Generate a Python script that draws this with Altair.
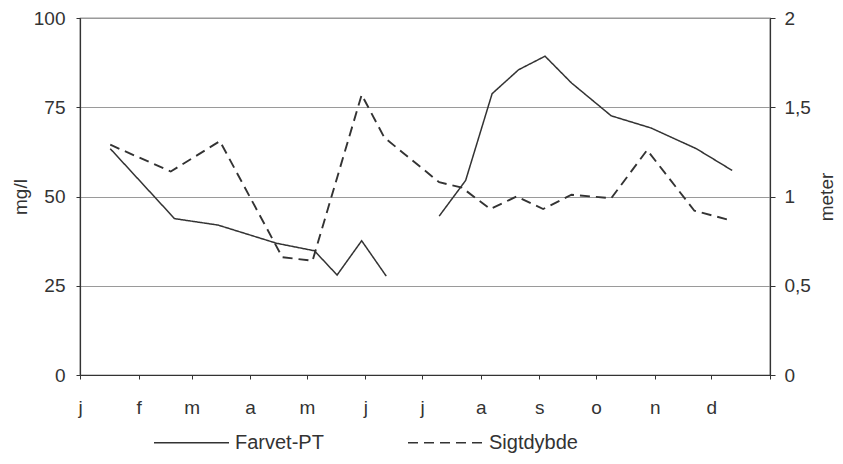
import altair as alt
import pandas as pd

# ---- data ----
month_letters = ['j', 'f', 'm', 'a', 'm', 'j', 'j', 'a', 's', 'o', 'n', 'd', '']
month_start_doy = [0, 31, 59, 90, 120, 151, 181, 212, 243, 273, 304, 334, 365]

farvet_dates = ["2001-01-17", "2001-02-20", "2001-03-15", "2001-04-15", "2001-05-05",
                "2001-05-17", "2001-05-30", "2001-06-12",
                "2001-07-10", "2001-07-24", "2001-08-07", "2001-08-21", "2001-09-04",
                "2001-09-18", "2001-10-09", "2001-10-30", "2001-11-23", "2001-12-12"]
farvet_values = [63.4, 43.8, 42.0, 36.9, 34.8, 28.0, 37.6, 27.7,
                 44.5, 54.5, 78.8, 85.5, 89.3, 81.8, 72.6, 69.2, 63.4, 57.3]
farvet_segment = [1, 1, 1, 1, 1, 1, 1, 1, 2, 2, 2, 2, 2, 2, 2, 2, 2, 2]

sigt_dates = ["2001-01-17", "2001-02-18", "2001-03-16", "2001-04-18", "2001-05-04",
              "2001-05-30", "2001-06-11", "2001-07-10", "2001-07-22", "2001-08-06",
              "2001-08-20", "2001-09-03", "2001-09-18", "2001-10-09", "2001-10-28",
              "2001-11-22", "2001-12-10"]
sigt_values = [1.29, 1.14, 1.31, 0.66, 0.64, 1.57, 1.33, 1.08, 1.05, 0.93,
               1.00, 0.93, 1.01, 0.99, 1.26, 0.92, 0.87]

series_names = ["Farvet-PT", "Sigtdybde"]

df_f = pd.DataFrame({
    "doy": pd.to_datetime(farvet_dates).dayofyear - 1,
    "value": farvet_values,
    "series": series_names[0],
    "seg": farvet_segment,
})
df_s = pd.DataFrame({
    "doy": pd.to_datetime(sigt_dates).dayofyear - 1,
    "value": sigt_values,
    "series": series_names[1],
    "seg": 1,
})

FONT = "Liberation Sans"
INK = "#333333"

label_expr = ("[" + ",".join("'%s'" % m for m in month_letters) + "][indexof(["
              + ",".join(str(d) for d in month_start_doy) + "], datum.value)]")

x_enc = alt.X(
    "doy:Q",
    scale=alt.Scale(domain=[0, 365], nice=False, zero=False),
    axis=alt.Axis(values=month_start_doy, labelExpr=label_expr, title=None, grid=False,
                  tickSize=4, labelFlush=False, labelAlign="center",
                  labelBaseline="alphabetic", labelPadding=34),
)

legend = alt.Legend(orient="none", legendX=73, legendY=386, direction="horizontal",
                    title=None, symbolType="stroke", symbolSize=5625,
                    symbolStrokeWidth=1.5, symbolStrokeColor=INK,
                    labelFontSize=20, labelFont=FONT, labelColor=INK,
                    labelOffset=5, columnPadding=81, padding=0)

dash_enc = alt.StrokeDash("series:N",
                          scale=alt.Scale(domain=series_names, range=[[1, 0], [10, 6]]),
                          legend=legend)

left = alt.Chart(df_f).mark_line(color=INK, strokeWidth=1.5).encode(
    x=x_enc,
    y=alt.Y("value:Q", scale=alt.Scale(domain=[0, 100], nice=False),
            axis=alt.Axis(values=[0, 25, 50, 75, 100], title="mg/l", grid=True,
                          gridColor="#9a9a9a", gridWidth=1, tickSize=4, labelPadding=11,
                          titleAngle=270, titleX=-60, titleY=178.5,
                          titleAlign="center", titleBaseline="middle")),
    strokeDash=dash_enc,
    detail="seg:N",
)

right = alt.Chart(df_s).mark_line(color=INK, strokeWidth=1.9).encode(
    x=x_enc,
    y=alt.Y("value:Q", scale=alt.Scale(domain=[0, 2], nice=False),
            axis=alt.Axis(orient="right", values=[0, 0.5, 1, 1.5, 2], title="meter",
                          grid=False, tickSize=5, labelPadding=9,
                          labelExpr="replace(toString(datum.value), '.', ',')",
                          titleAngle=270, titleX=56, titleY=178.5,
                          titleAlign="center", titleBaseline="middle")),
    strokeDash=dash_enc,
    detail="seg:N",
)

chart = alt.layer(left, right).resolve_scale(y="independent").properties(
    width=690, height=357,
    autosize=alt.AutoSizeParams(type="none"),
    padding={"left": 72, "top": 10, "right": 65, "bottom": 85},
).configure_view(stroke=INK, strokeWidth=1.2).configure_axis(
    labelFont=FONT, labelFontSize=19, labelColor=INK,
    titleFont=FONT, titleFontSize=19, titleColor=INK, titleFontWeight="normal",
    domainColor=INK, domainWidth=1.2, tickColor=INK,
)

chart.save("out.html", embed_options={"renderer": "svg", "actions": False})
